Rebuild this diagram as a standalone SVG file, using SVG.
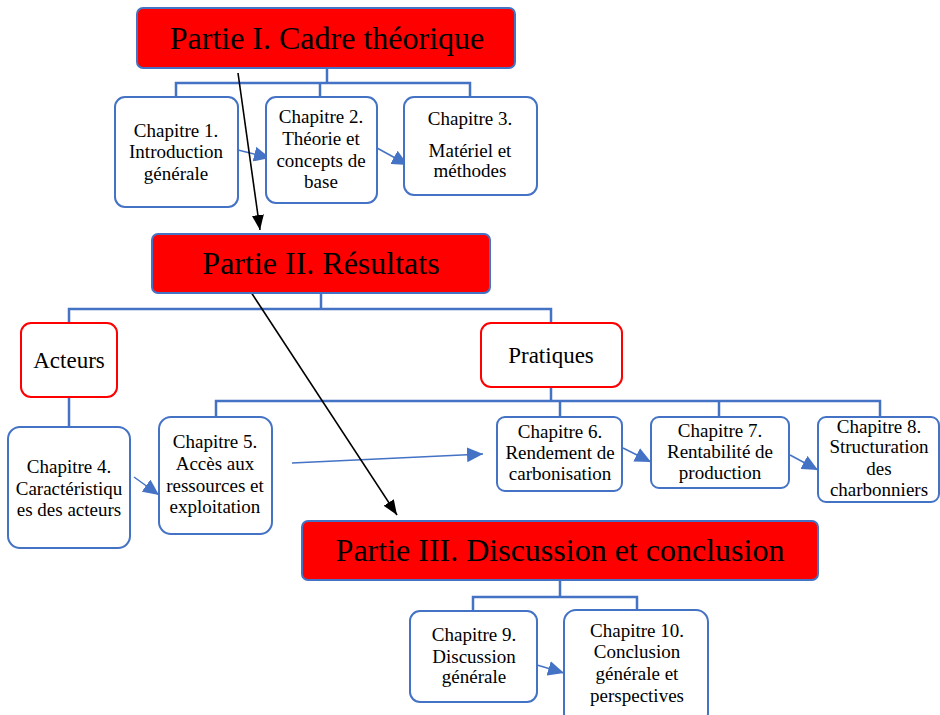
<svg xmlns="http://www.w3.org/2000/svg" width="940" height="715" viewBox="0 0 940 715">
<defs>
<style>
.part{fill:#FF0000;stroke:#4472C4;stroke-width:2}
.cat{fill:#FFFFFF;stroke:#FF0000;stroke-width:2}
.ch{fill:#FFFFFF;stroke:#4472C4;stroke-width:2}
.tree{fill:none;stroke:#4472C4;stroke-width:2.5}
.flow{fill:none;stroke:#4472C4;stroke-width:1.5}
.main{fill:none;stroke:#000000;stroke-width:1.6}
text{font-family:"Liberation Serif","Times New Roman",serif;fill:#000000;text-anchor:middle}
.tp{font-size:32px}
.tc{font-size:23px}
.tx{font-size:19px}
</style>
<marker id="ab" markerUnits="userSpaceOnUse" markerWidth="17" markerHeight="15" refX="16" refY="7.5" orient="auto">
<path d="M0,0 L16,7.5 L0,15 z" fill="#4472C4"/>
</marker>
<marker id="ak" markerUnits="userSpaceOnUse" markerWidth="16" markerHeight="12" refX="15" refY="6" orient="auto">
<path d="M0,0 L15,6 L0,12 z" fill="#000000"/>
</marker>
</defs>

<g id="connectors">
<polyline class="tree" points="327,68 327,83"/>
<polyline class="tree" points="176,97 176,83 470,83 470,97"/>
<polyline class="tree" points="320,83 320,97"/>
<polyline class="tree" points="321,293 321,309"/>
<polyline class="tree" points="69,323 69,309 551,309 551,323"/>
<polyline class="tree" points="69,397 69,427"/>
<polyline class="tree" points="551,387 551,401"/>
<polyline class="tree" points="216,417 216,401 880,401 880,417"/>
<polyline class="tree" points="560,401 560,417"/>
<polyline class="tree" points="719,401 719,417"/>
<polyline class="tree" points="560,580 560,597"/>
<polyline class="tree" points="473,611 473,597 637,597 637,610"/>
<line class="flow" x1="238" y1="150" x2="270" y2="158" marker-end="url(#ab)"/>
<line class="flow" x1="377" y1="148" x2="408" y2="165" marker-end="url(#ab)"/>
<line class="flow" x1="134" y1="477" x2="159" y2="495" marker-end="url(#ab)"/>
<line class="flow" x1="292" y1="463" x2="483" y2="454" marker-end="url(#ab)"/>
<line class="flow" x1="623" y1="448" x2="651" y2="462" marker-end="url(#ab)"/>
<line class="flow" x1="790" y1="455" x2="818" y2="470" marker-end="url(#ab)"/>
<line class="flow" x1="537" y1="665" x2="564" y2="673" marker-end="url(#ab)"/>
<line class="main" x1="238" y1="73" x2="260" y2="230" marker-end="url(#ak)"/>
<line class="main" x1="247" y1="286" x2="397" y2="515" marker-end="url(#ak)"/>
</g>

<g id="partie1">
<rect class="part" x="137" y="8" width="378" height="60" rx="6"/>
<text class="tp" x="327" y="49">Partie I. Cadre théorique</text>
</g>
<g id="ch1">
<rect class="ch" x="115" y="97" width="123" height="110" rx="10"/>
<text class="tx" x="176" y="137">Chapitre 1.</text>
<text class="tx" x="176" y="158">Introduction</text>
<text class="tx" x="176" y="180">générale</text>
</g>
<g id="ch2">
<rect class="ch" x="266" y="97" width="111" height="106" rx="10"/>
<text class="tx" x="321" y="123">Chapitre 2.</text>
<text class="tx" x="321" y="145">Théorie et</text>
<text class="tx" x="321" y="167">concepts de</text>
<text class="tx" x="321" y="188">base</text>
</g>
<g id="ch3">
<rect class="ch" x="404" y="97" width="133" height="98" rx="10"/>
<text class="tx" x="470" y="125">Chapitre 3.</text>
<text class="tx" x="470" y="157">Matériel et</text>
<text class="tx" x="470" y="177">méthodes</text>
</g>

<g id="partie2">
<rect class="part" x="152" y="234" width="338" height="59" rx="6"/>
<text class="tp" x="321" y="274">Partie II. Résultats</text>
</g>
<g id="acteurs">
<rect class="cat" x="21" y="323" width="96" height="74" rx="10"/>
<text class="tc" x="69" y="368">Acteurs</text>
</g>
<g id="pratiques">
<rect class="cat" x="481" y="323" width="141" height="64" rx="10"/>
<text class="tc" x="551" y="363">Pratiques</text>
</g>
<g id="ch4">
<rect class="ch" x="8" y="427" width="122" height="121" rx="12"/>
<text class="tx" x="69" y="473">Chapitre 4.</text>
<text class="tx" x="69" y="495">Caractéristiqu</text>
<text class="tx" x="69" y="516">es des acteurs</text>
</g>
<g id="ch5">
<rect class="ch" x="159" y="417" width="113" height="117" rx="12"/>
<text class="tx" x="215" y="448">Chapitre 5.</text>
<text class="tx" x="215" y="470">Accès aux</text>
<text class="tx" x="215" y="492">ressources et</text>
<text class="tx" x="215" y="513">exploitation</text>
</g>
<g id="ch6">
<rect class="ch" x="497" y="417" width="125" height="74" rx="8"/>
<text class="tx" x="560" y="438">Chapitre 6.</text>
<text class="tx" x="560" y="459">Rendement de</text>
<text class="tx" x="560" y="480">carbonisation</text>
</g>
<g id="ch7">
<rect class="ch" x="651" y="417" width="138" height="71" rx="8"/>
<text class="tx" x="720" y="437">Chapitre 7.</text>
<text class="tx" x="720" y="458">Rentabilité de</text>
<text class="tx" x="720" y="479">production</text>
</g>
<g id="ch8">
<rect class="ch" x="818" y="417" width="121" height="85" rx="8"/>
<text class="tx" x="879" y="433">Chapitre 8.</text>
<text class="tx" x="879" y="453">Structuration</text>
<text class="tx" x="879" y="475">des</text>
<text class="tx" x="879" y="496">charbonniers</text>
</g>

<g id="partie3">
<rect class="part" x="302" y="521" width="516" height="59" rx="6"/>
<text class="tp" x="560" y="561">Partie III. Discussion et conclusion</text>
</g>
<g id="ch9">
<rect class="ch" x="410" y="611" width="127" height="91" rx="10"/>
<text class="tx" x="474" y="641">Chapitre 9.</text>
<text class="tx" x="474" y="663">Discussion</text>
<text class="tx" x="474" y="683">générale</text>
</g>
<g id="ch10">
<rect class="ch" x="564" y="610" width="144" height="115" rx="12"/>
<text class="tx" x="637" y="637">Chapitre 10.</text>
<text class="tx" x="637" y="658">Conclusion</text>
<text class="tx" x="637" y="680">générale et</text>
<text class="tx" x="637" y="702">perspectives</text>
</g>
</svg>
